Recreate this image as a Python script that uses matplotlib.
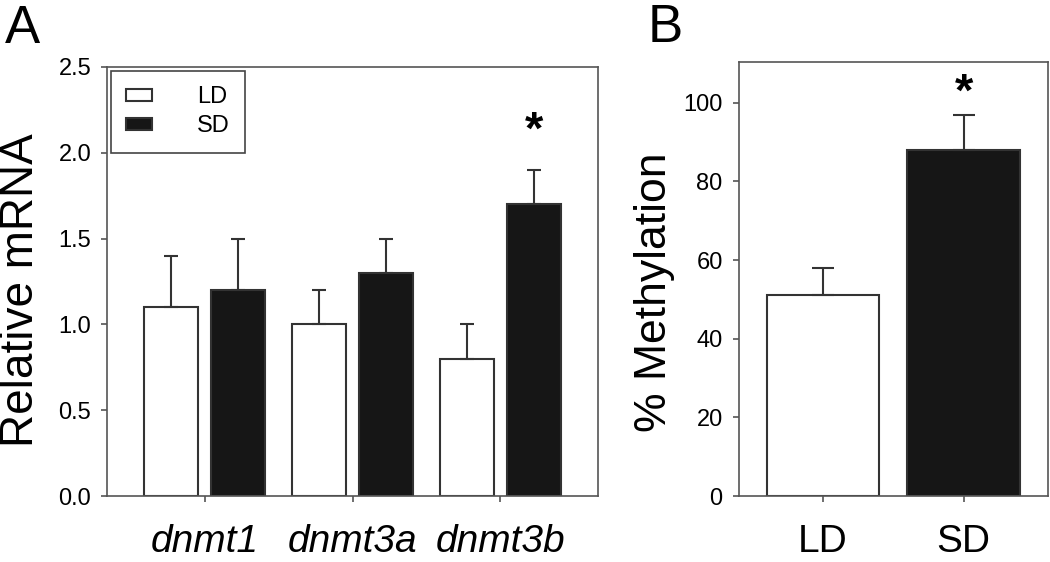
#
# Relative mRNA of dnmt genes (A) and % methylation (B), LD vs SD
#

import numpy as np
from matplotlib import pyplot as plt

# ---- data ----
genes = ['dnmt1', 'dnmt3a', 'dnmt3b']
mrna_LD = [1.1, 1.0, 0.8]
mrna_LD_err = [0.3, 0.2, 0.2]
mrna_SD = [1.2, 1.3, 1.7]
mrna_SD_err = [0.3, 0.2, 0.2]

groups = ['LD', 'SD']
methyl = [51, 88]
methyl_err = [7, 9]

yticksA = [0.0, 0.5, 1.0, 1.5, 2.0, 2.5]
yticksB = [0, 20, 40, 60, 80, 100]

# ---- style ----
plt.rcParams['font.family'] = ['Liberation Sans', 'DejaVu Sans']
edge = '#333333'
spine = '#555555'
black = '#161616'


def style_axis(ax):
    for s in ax.spines.values():
        s.set_color(spine)
        s.set_linewidth(1.2)
    ax.tick_params(axis='both', direction='out', length=4.5, width=1.2, color=spine)
    ax.tick_params(axis='y', labelsize=17, pad=7)


fig = plt.figure(figsize=(10.5, 5.62), dpi=100)
axA = fig.add_axes([0.102, 0.1174, 0.4675, 0.7636])
axB = fig.add_axes([0.7035, 0.1174, 0.2945, 0.7726])

# ---- panel A ----
x = np.arange(len(genes))
off, w = 0.225, 0.365
bLD = axA.bar(x - off, mrna_LD, w, color='white', edgecolor=edge, linewidth=1.5, label='LD')
bSD = axA.bar(x + off, mrna_SD, w, color=black, edgecolor=edge, linewidth=1.5, label='SD')
axA.errorbar(x - off, mrna_LD, yerr=[np.zeros(len(x)), mrna_LD_err], fmt='none',
             ecolor=edge, elinewidth=1.5, capsize=4.7, capthick=1.5)
axA.errorbar(x + off, mrna_SD, yerr=[np.zeros(len(x)), mrna_SD_err], fmt='none',
             ecolor=edge, elinewidth=1.5, capsize=4.7, capthick=1.5)
axA.text(x[2] + off, 2.12, '*', ha='center', va='center', fontsize=34, fontweight='bold')

axA.set_xlim(-0.66, 2.66)
axA.set_ylim(0, 2.5)
axA.set_yticks(yticksA)
axA.set_yticklabels(['%.1f' % v for v in yticksA])
axA.set_xticks(x)
axA.set_xticklabels(genes, fontsize=28, style='italic')
axA.tick_params(axis='x', pad=16)
style_axis(axA)
axA.set_ylabel('Relative mRNA', fontsize=33)
axA.yaxis.set_label_coords(-0.13, 0.48)

leg = axA.legend(handles=[bLD, bSD], loc='upper left',
                 bbox_to_anchor=(111 / 1050, 1 - 71 / 562), bbox_transform=fig.transFigure,
                 fontsize=17, fancybox=False, edgecolor='#444444', framealpha=1,
                 handlelength=1.1, handleheight=0.45, handletextpad=1.9,
                 borderpad=0.65, labelspacing=0.3, borderaxespad=0)
leg.get_frame().set_linewidth(1.2)

# ---- panel B ----
xb = np.arange(len(groups))
axB.bar(xb, methyl, 0.8, color=['white', black], edgecolor=edge, linewidth=1.5)
axB.errorbar(xb, methyl, yerr=[np.zeros(len(xb)), methyl_err], fmt='none',
             ecolor=edge, elinewidth=1.5, capsize=8, capthick=1.5)
axB.text(xb[1], 102.4, '*', ha='center', va='center', fontsize=34, fontweight='bold')

axB.set_xlim(-0.6, 1.6)
axB.set_ylim(0, 110.4)
axB.set_yticks(yticksB)
axB.set_xticks(xb)
axB.set_xticklabels(groups, fontsize=28)
axB.tick_params(axis='x', pad=16)
style_axis(axB)
axB.set_ylabel('% Methylation', fontsize=32)
axB.yaxis.set_label_coords(-0.205, 0.47)

# ---- panel letters ----
fig.text(5 / 1050, 1 - 43 / 562, 'A', fontsize=38, va='baseline')
fig.text(648 / 1050, 1 - 42 / 562, 'B', fontsize=38, va='baseline')

fig.savefig('out.png', dpi=100)
